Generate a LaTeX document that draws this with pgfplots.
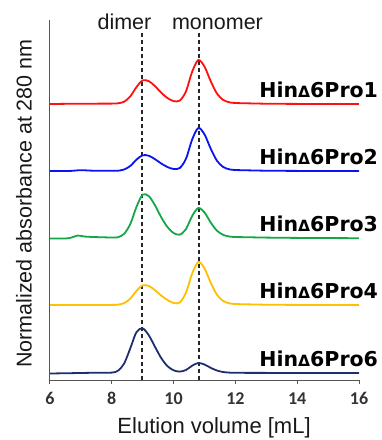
\documentclass[border=0pt]{standalone}
\usepackage{fontspec}
\setmainfont{Liberation Sans}
\newfontfamily\carlito{Carlito}
\newfontfamily\dejavu{DejaVu Sans}
\usepackage{pgfplots}
\pgfplotsset{compat=1.18}
\definecolor{cred}{HTML}{FF1010}
\definecolor{cblue}{HTML}{0A14F0}
\definecolor{cgreen}{HTML}{12A846}
\definecolor{cyellow}{HTML}{FFC000}
\definecolor{cnavy}{HTML}{1F2E6E}
\definecolor{axgray}{HTML}{555555}
\newcommand{\hin}[1]{{\dejavu\bfseries\fontsize{20.5}{22}\selectfont Hin{\fontsize{15.5}{16}\selectfont Δ}6Pro#1}}
\begin{document}
\begin{tikzpicture}
\begin{axis}[
  scale only axis, width=309pt, height=360pt,
  xmin=6, xmax=16, ymin=0, ymax=360,
  axis x line*=bottom, axis y line*=left,
  axis line style={axgray, line width=1pt, -},
  ytick=\empty,
  xtick={6,8,10,12,14,16},
  tick align=outside, major tick length=4pt,
  tick style={axgray, line width=1pt},
  /pgf/number format/assume math mode=true,
  xticklabel style={font=\carlito\bfseries\fontsize{18}{18}\selectfont, text=black!80, anchor=north, yshift=-5pt},
  xlabel={Elution volume [mL]},
  xlabel style={font=\fontsize{22}{22}\selectfont, text=black!90, at={(axis description cs:0.531,-0.15)}, anchor=base, inner sep=0pt},
  ylabel={Normalized absorbance at 280 nm},
  ylabel style={font=\fontsize{21.5}{22}\selectfont, text=black!90, at={(axis description cs:-0.058,0.49)}, anchor=south, inner sep=0pt},
  clip=false,
  every axis plot/.append style={line width=1.8pt, smooth, tension=0.5},
]
% dashed guides
\addplot[black!85, line width=2pt, dash pattern=on 4pt off 3pt, sharp plot] coordinates {(8.985,0) (8.985,347)};
\addplot[black!85, line width=2pt, dash pattern=on 4pt off 3pt, sharp plot] coordinates {(10.82,0) (10.82,347)};
% Pro1 (red)
\addplot[cred] coordinates {
(6,276) (7,276.3) (8,276.4) (8.2,276.7) (8.4,278.3) (8.6,283.7) (8.8,293.0) (9.0,299.7) (9.2,298.8)
(9.4,293.8) (9.6,287.3) (9.8,282.0) (10.0,278.9) (10.2,279.4) (10.4,288.6) (10.6,308.2)
(10.8,320.0) (11.0,313.4) (11.2,298.9) (11.4,286.6) (11.6,280.2) (11.8,277.7) (12,277.0)
(12.5,276.6) (13,276.3) (14,276.1) (16,276)};
% Pro2 (blue)
\addplot[cblue] coordinates {
(6,209) (6.6,209) (7,209.8) (7.4,209.3) (8,209.2) (8.2,209.3) (8.4,210.5) (8.6,214.1) (8.8,220.4) (9.0,224.8)
(9.2,224.2) (9.4,220.8) (9.6,216.5) (9.8,213.0) (10.0,211.0) (10.2,212.0) (10.4,221.2)
(10.6,240.4) (10.8,252.0) (11.0,245.6) (11.2,231.4) (11.4,219.4) (11.6,213.1) (11.8,210.7)
(12,210.0) (12.5,209.6) (13,209.3) (14,209.1) (16,209)};
% Pro3 (green)
\addplot[cgreen] coordinates {
(6,141.5) (6.5,141.5) (6.7,142.5) (6.9,144.5) (7.1,143.5) (7.4,143) (8,142.5) (8.2,142.8)
(8.4,146.2) (8.6,156.1) (8.8,173.2) (9.0,185.4) (9.2,183.8) (9.4,174.6) (9.6,162.7)
(9.8,153.0) (10.0,147.0) (10.2,145.3) (10.4,150.9) (10.6,164.0) (10.8,172.0) (11.0,167.5)
(11.2,157.6) (11.4,149.4) (11.6,145.2) (11.8,143.5) (12,143.0) (12.5,142.7) (13,142.4)
(14,142.1) (16,141.8)};
% Pro4 (yellow)
\addplot[cyellow] coordinates {
(6,75) (7,75) (8,75.1) (8.2,75.4) (8.4,76.9) (8.6,81.4) (8.8,89.2) (9.0,94.7) (9.2,94.0)
(9.4,89.8) (9.6,84.4) (9.8,80.0) (10.0,77.0) (10.2,77.5) (10.4,87.3) (10.6,106.4) (10.8,118.0)
(11.0,111.6) (11.2,97.4) (11.4,85.4) (11.6,79.1) (11.8,76.7) (12,76.0) (12.5,75.6) (13,75.3)
(14,75.1) (16,75)};
% Pro6 (navy)
\addplot[cnavy] coordinates {
(6,6.5) (7,7) (7.5,7.3) (8,7.4) (8.2,9.3) (8.4,16.5) (8.6,31.8) (8.8,48.0) (9.0,51.6)
(9.2,44.6) (9.4,33.1) (9.6,21.9) (9.8,13.9) (10.0,9.7) (10.2,8.4) (10.4,10.0) (10.6,14.3)
(10.8,17.0) (11.0,15.5) (11.2,12.2) (11.4,9.5) (11.6,8.0) (11.8,7.4) (12,7.2) (13,7.1) (16,7.0)};
% labels
\node[anchor=base east, inner sep=0pt] at (axis cs:16.62,283) {\hin{1}};
\node[anchor=base east, inner sep=0pt] at (axis cs:16.62,215.5) {\hin{2}};
\node[anchor=base east, inner sep=0pt] at (axis cs:16.62,148.5) {\hin{3}};
\node[anchor=base east, inner sep=0pt] at (axis cs:16.62,81.5) {\hin{4}};
\node[anchor=base east, inner sep=0pt] at (axis cs:16.62,13.5) {\hin{6}};
\node[anchor=base, inner sep=0pt, font=\fontsize{21.5}{22}\selectfont, text=black!90] at (axis cs:8.41,351) {dimer};
\node[anchor=base, inner sep=0pt, font=\fontsize{21.5}{22}\selectfont, text=black!90] at (axis cs:11.42,351) {monomer};
\end{axis}
\pgfresetboundingbox
\path (-50pt,-60pt) rectangle (331pt,380pt);
\end{tikzpicture}
\end{document}
